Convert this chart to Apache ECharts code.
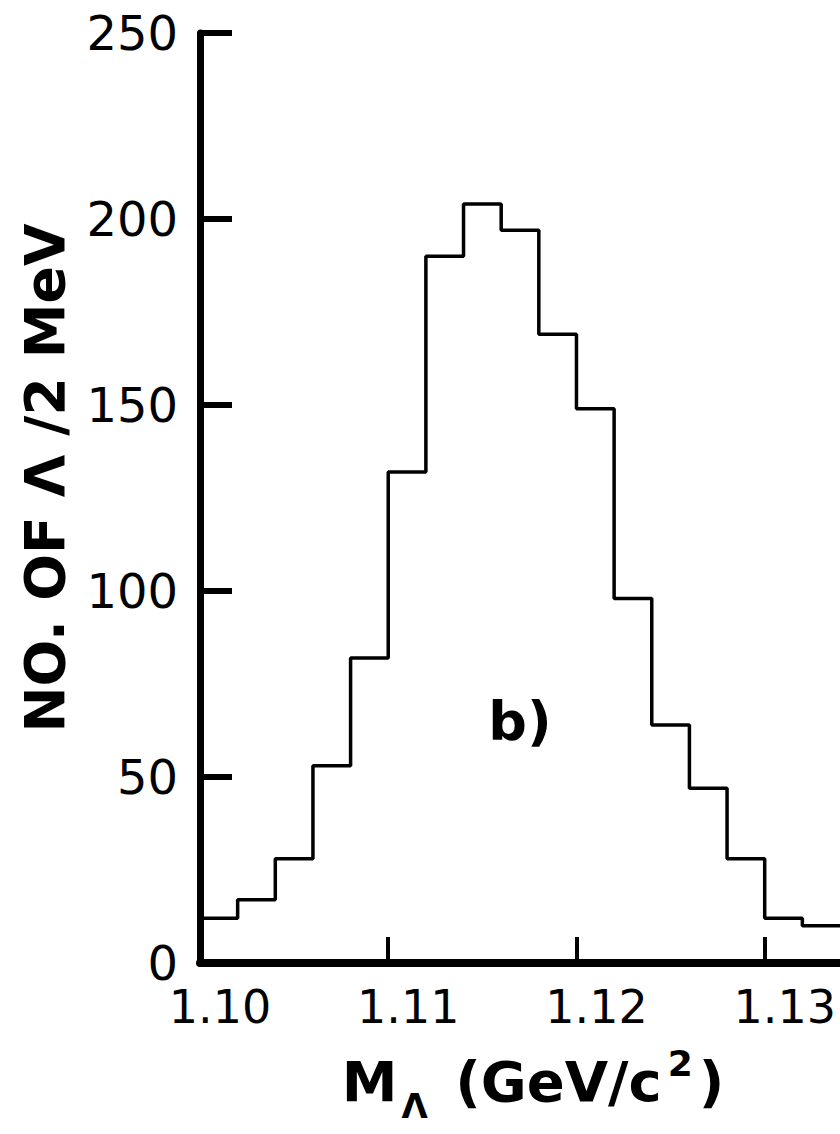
<!DOCTYPE html>
<html>
<head>
<meta charset="utf-8">
<script src="https://cdn.jsdelivr.net/npm/echarts@6/dist/echarts.min.js"></script>
<style>
  html, body { margin: 0; padding: 0; background: #ffffff; }
  #chart { width: 840px; height: 1134px; }
</style>
</head>
<body>
<div id="chart"></div>
<script>
// Bin left edges (GeV/c^2), 2 MeV bins
const binStarts = [1.100, 1.102, 1.104, 1.106, 1.108, 1.110, 1.112, 1.114, 1.116,
                   1.118, 1.120, 1.122, 1.124, 1.126, 1.128, 1.130, 1.132];
const binEnd = 1.134;
// Counts per 2 MeV bin
const counts = [12, 17, 28, 53, 82, 132, 190, 204, 197, 169, 149, 98, 64, 47, 28, 12, 10];
const xTicks = [1.10, 1.11, 1.12, 1.13];
const xTickLabels = ['1.10', '1.11', '1.12', '1.13'];
const yTicks = [0, 50, 100, 150, 200, 250];
const panelLabel = 'b)';
const panelPos = [1.117, 65];

const stepData = binStarts.map((x, i) => [x, counts[i]]);
stepData.push([binEnd, counts[counts.length - 1]]);

const chart = echarts.init(document.getElementById('chart'), null, { renderer: 'svg' });
const font = "'DejaVu Sans', sans-serif";

chart.setOption({
  animation: false,
  backgroundColor: '#ffffff',
  grid: { left: 200, right: 0, top: 33, bottom: 171, containLabel: false },
  xAxis: {
    type: 'value',
    min: 1.10,
    max: binEnd,
    interval: 0.01,
    name: '{m|M}{sub|Λ}{t| (GeV/c}{sup|2}{t|)}',
    nameLocation: 'middle',
    nameGap: 82,
    nameTextStyle: {
      padding: [0, 0, 0, 26],
      rich: {
        m: { fontFamily: font, fontWeight: 'bold', fontSize: 56, color: '#000', verticalAlign: 'bottom', lineHeight: 64 },
        t: { fontFamily: font, fontWeight: 'bold', fontSize: 56, color: '#000', verticalAlign: 'bottom', lineHeight: 64 },
        sub: { fontFamily: font, fontWeight: 'bold', fontSize: 34, color: '#000', verticalAlign: 'bottom', lineHeight: 40, padding: [0, 8, -14, 4] },
        sup: { fontFamily: font, fontWeight: 'bold', fontSize: 36, color: '#000', verticalAlign: 'top', lineHeight: 40, padding: [0, 6, 30, 6] }
      }
    },
    axisLine: { show: true, onZero: false, lineStyle: { color: '#000', width: 8 } },
    axisTick: { show: true, inside: true, length: 26, customValues: xTicks.slice(1), lineStyle: { color: '#000', width: 4 } },
    axisLabel: {
      show: true, margin: 22, customValues: xTicks,
      formatter: v => xTickLabels[xTicks.findIndex(t => Math.abs(t - v) < 1e-9)] || '',
      fontFamily: font, fontSize: 46, lineHeight: 44, color: '#000', padding: [0, 0, 0, 40]
    },
    splitLine: { show: false }
  },
  yAxis: {
    type: 'value',
    min: 0,
    max: 250,
    interval: 50,
    name: 'NO. OF Λ /2 MeV',
    nameLocation: 'middle',
    nameGap: 128,
    nameTextStyle: { fontFamily: font, fontWeight: 'bold', fontSize: 55, color: '#000', padding: [0, 0, 0, 40] },
    axisLine: { show: true, lineStyle: { color: '#000', width: 7 } },
    axisTick: { show: true, inside: true, length: 32, customValues: yTicks.slice(1), lineStyle: { color: '#000', width: 6 } },
    axisLabel: { show: true, margin: 22, fontFamily: font, fontSize: 48, lineHeight: 40, color: '#000' },
    splitLine: { show: false }
  },
  series: [{
    type: 'line',
    step: 'end',
    data: stepData,
    symbol: 'none',
    clip: false,
    lineStyle: { color: '#000', width: 3.5 },
    markPoint: {
      symbol: 'circle',
      symbolSize: 0,
      data: [{ coord: panelPos, value: panelLabel }],
      label: { show: true, position: 'inside', formatter: panelLabel, fontFamily: font, fontWeight: 'bold', fontSize: 54, color: '#000' }
    }
  }]
});
</script>
</body>
</html>
